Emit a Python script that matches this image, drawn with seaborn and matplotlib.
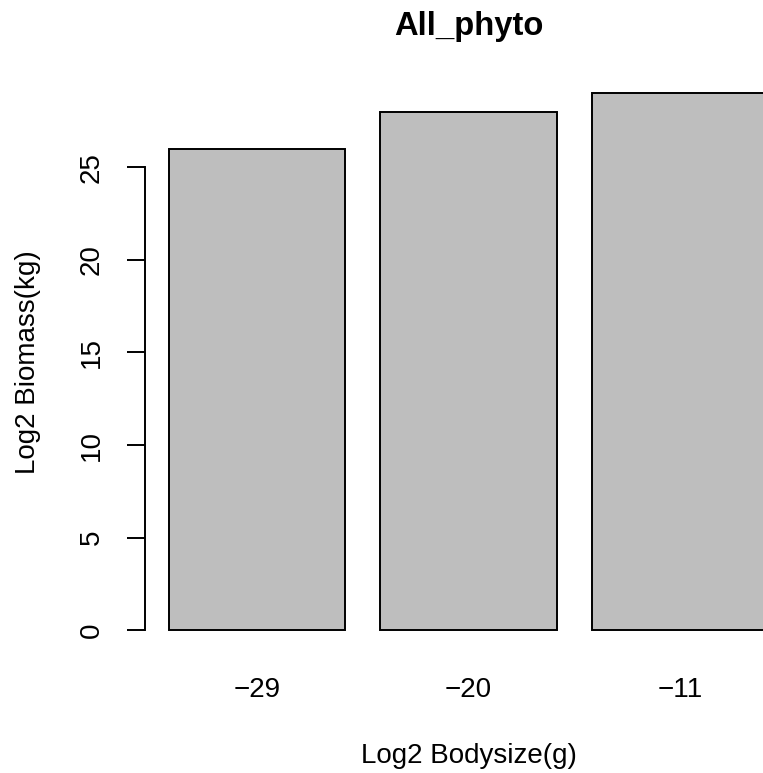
import matplotlib
matplotlib.use("Agg")
import matplotlib.pyplot as plt
import seaborn as sns
import pandas as pd

# Data
bodysize = ["\u221229", "\u221220", "\u221211"]
biomass = [26, 28, 29]
yticks = [0, 5, 10, 15, 20, 25]

title = "All_phyto"
xlabel = "Log2 Bodysize(g)"
ylabel = "Log2 Biomass(kg)"

sns.set_style("white")
plt.rcParams["font.family"] = ["Liberation Sans", "DejaVu Sans"]
plt.rcParams["text.color"] = "black"
plt.rcParams["axes.labelcolor"] = "black"
plt.rcParams["xtick.color"] = "black"
plt.rcParams["ytick.color"] = "black"

df = pd.DataFrame({"size": bodysize, "biomass": biomass})

W, H = 763, 773
fig = plt.figure(figsize=(W / 100, H / 100), dpi=100)
fig.patch.set_facecolor("white")

# axes region in pixels (R plot region), right side extends past the figure
left_px, right_px = 145.0, 792.0
top_px, bottom_px = 71.7, 651.8
ax = fig.add_axes([left_px / W, 1 - bottom_px / H,
                   (right_px - left_px) / W, (bottom_px - top_px) / H])
ax.set_facecolor("white")

sns.barplot(data=df, x="size", y="biomass", order=bodysize, ax=ax,
            color="#BEBEBE", saturation=1, width=1 / 1.2,
            edgecolor="black", linewidth=1.4, errorbar=None)

ax.set_xlim(-0.53, 2.53)
ax.set_ylim(-1.16, 30.16)

for s in ["top", "right", "bottom"]:
    ax.spines[s].set_visible(False)
ax.spines["left"].set_bounds(0, 25)
ax.spines["left"].set_linewidth(1.4)
ax.spines["left"].set_color("black")

fs = 20
ax.set_yticks(yticks)
ax.set_yticklabels([str(v) for v in yticks], rotation=90, va="center")
ax.tick_params(axis="y", length=13, width=1.4, color="black", pad=16,
               labelsize=fs, left=True)
ax.tick_params(axis="x", length=0, pad=18, labelsize=fs)

ax.set_xlabel(xlabel, fontsize=fs)
ax.set_ylabel(ylabel, fontsize=fs, va="center")
ax.xaxis.set_label_coords(0.5, -0.157)
ax.yaxis.set_label_coords((28 - left_px) / (right_px - left_px), 0.5)

ax.set_title(title, fontsize=23.6, fontweight="bold", pad=26.4)

fig.savefig("out.png", dpi=100, facecolor="white")
